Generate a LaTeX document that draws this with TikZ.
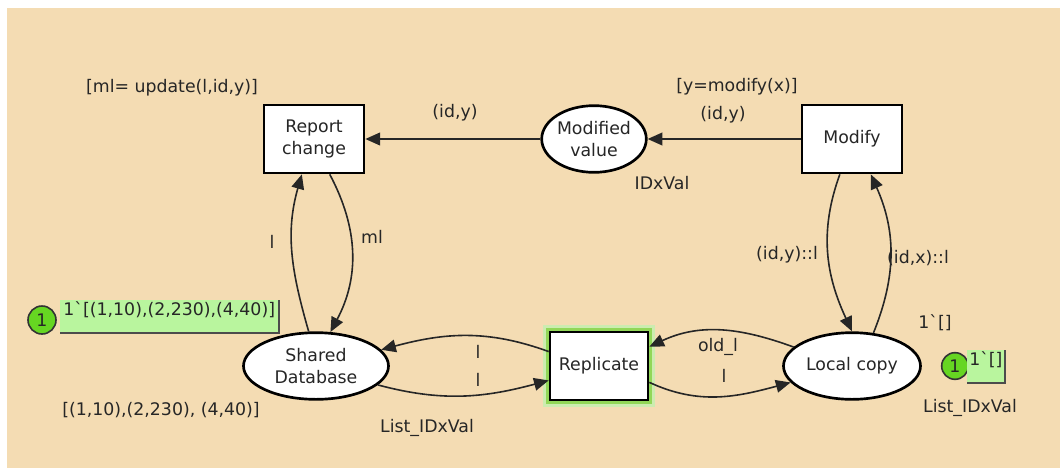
\documentclass[tikz,border=0pt]{standalone}
\usepackage{fontspec}
\setmainfont{DejaVu Sans}
\usetikzlibrary{shapes.geometric, arrows.meta}
\definecolor{bgColor}{HTML}{F4DCB3}
\definecolor{tokenColor}{HTML}{66D622}
\definecolor{markColor}{HTML}{B9F59E}
\definecolor{glowColor}{HTML}{7FD03A}

\begin{document}
\begin{tikzpicture}[x=0.75pt, y=-0.75pt,
    every node/.style={font=\fontsize{13pt}{17pt}\selectfont, text=black!85},
    trans/.style={draw, line width=2pt, fill=white, minimum width=75pt, minimum height=51pt, align=center, inner sep=0pt},
    place/.style={ellipse, draw, line width=2pt, fill=white, minimum height=50pt, align=center, inner sep=0pt},
    enabled/.style={trans, preaction={draw=glowColor!40, line width=10pt}, preaction={draw=glowColor!85, line width=6pt}},
    arc/.style={line width=1.2pt, black!85, -{Triangle[length=11pt, width=9.5pt]}},
    token/.style={circle, draw=black!80, line width=1.2pt, fill=tokenColor, inner sep=0pt, minimum size=#1},
    marking/.style={fill=markColor, anchor=north west, inner xsep=1.5pt, inner ysep=1.5pt, text height=10pt, text depth=11pt},
    shadow/.style={line width=1.5pt, black!70}]
    \useasboundingbox (0,0) rectangle (1060,468);
    \fill[bgColor] (7,8) rectangle (1060,468);

    % places and transitions
    \node[trans] (rep) at (314,139) {Report\\change};
    \node[place, minimum width=76.5pt] (modval) at (594,139) {Modified\\value};
    \node[trans] (modify) at (852,139) {Modify};
    \node[place, minimum width=108.75pt] (sdb) at (316,366) {Shared\\Database};
    \node[enabled, minimum width=73.5pt] (repl) at (599,366) {Replicate};
    \node[place, minimum width=102.75pt] (local) at (852,366) {Local copy};

    % arcs
    \draw[arc] (modify) -- (modval);
    \draw[arc] (modval) -- (rep);
    \draw[arc] (sdb.102) to[out=106, in=254] (rep.251);
    \draw[arc] (rep.294) to[out=-62, in=62] (sdb.67);
    \draw[arc] (modify.251) to[out=-110, in=115] (local.north);
    \draw[arc] (local.57) to[out=68, in=-66] (modify.298);
    \draw[arc] (repl.164) to[out=160, in=15] (sdb.14);
    \draw[arc] (sdb.-17) to[out=-15, in=195] (repl.196);
    \draw[arc] (local.162) to[out=160, in=25] (repl.21);
    \draw[arc] (repl.-18) to[out=-25, in=195] (local.195);

    % inscriptions
    \node (guardRep) at (172,88) {[ml= update(l,id,y)]};
    \node (lblRepIn) at (455,113) {(id,y)};
    \node (guardMod) at (737,87) {[y=modify(x)]};
    \node (lblModOut) at (723,115) {(id,y)};
    \node (typeModval) at (662,183) {IDxVal};
    \node (lblL1) at (272,242) {l};
    \node (lblMl) at (372,237) {ml};
    \node (lblIdyl) at (787,255) {(id,y)::l};
    \node (lblIdxl) at (918,258) {(id,x)::l};
    \node (lblOld) at (718,347) {old\_l};
    \node (lblL4) at (724,376) {l};
    \node (lblL2) at (478,352) {l};
    \node (lblL3) at (478,380) {l};
    \node (typeSdb) at (427,428) {List\_IDxVal};
    \node (initSdb) at (161,410) {[(1,10),(2,230), (4,40)]};
    \node (typeLocal) at (970,408) {List\_IDxVal};
    \node (initLocal) at (935,323) {1\textasciigrave[]};

    % current markings
    \node[token=21pt] (tokSdb) at (42,320) {1};
    \node[marking, minimum width=163.5pt] (markSdb) at (60,300) {1\textasciigrave[(1,10),(2,230),(4,40)]};
    \draw[shadow] (markSdb.north east) -- (markSdb.south east) -- (markSdb.south west);
    \node[token=20pt] (tokLocal) at (955,366) {1};
    \node[marking, minimum width=26pt] (markLocal) at (967,350) {1\textasciigrave[]};
    \draw[shadow] (markLocal.north east) -- (markLocal.south east) -- (markLocal.south west);
\end{tikzpicture}
\end{document}
